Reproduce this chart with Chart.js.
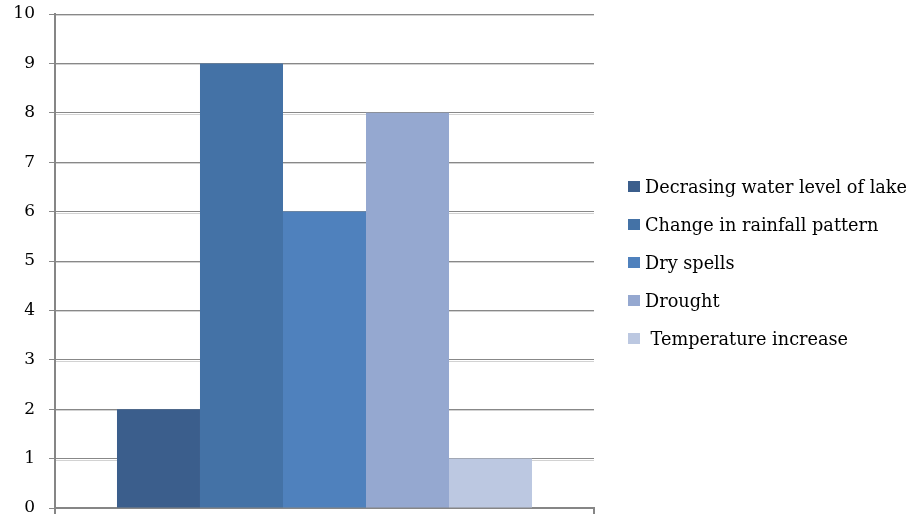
<!DOCTYPE html>
<html>
<head>
<meta charset="utf-8">
<script src="https://cdn.jsdelivr.net/npm/chart.js@4/dist/chart.umd.min.js"></script>
<style>
  html, body { margin: 0; padding: 0; background: #fff; }
  #wrap { position: relative; width: 911px; height: 516px; }
  canvas { display: block; }
  #legend { position: absolute; left: 628px; top: 168px; margin: 0; padding: 0; list-style: none;
            font-family: "DejaVu Serif", serif; font-size: 17.7px; color: #000; }
  #legend li { display: flex; align-items: center; height: 37.9px; white-space: pre; }
  #legend .box { width: 12px; height: 11px; margin-right: 5px; flex: none; }
</style>
</head>
<body>
<div id="wrap">
  <canvas id="c" width="911" height="516"></canvas>
  <ul id="legend"></ul>
</div>
<script>
const categories = [''];
const seriesNames = [
  'Decrasing water level of lake',
  'Change in rainfall pattern',
  'Dry spells',
  'Drought',
  ' Temperature increase'
];
const seriesValues = [[2], [9], [6], [8], [1]];
const seriesColors = ['#3b5e8c', '#4472a6', '#4f81bd', '#95a8d0', '#bcc8e1'];
const yTicks = [0, 1, 2, 3, 4, 5, 6, 7, 8, 9, 10];

const serif = '"DejaVu Serif", serif';

// Builds the list beside the plot from the chart's own datasets
const htmlLegend = {
  id: 'htmlLegend',
  afterUpdate(chart) {
    const ul = document.getElementById('legend');
    ul.innerHTML = '';
    chart.data.datasets.forEach(ds => {
      const li = document.createElement('li');
      const box = document.createElement('span');
      box.className = 'box';
      box.style.background = ds.backgroundColor;
      const txt = document.createElement('span');
      txt.textContent = ds.label;
      li.appendChild(box);
      li.appendChild(txt);
      ul.appendChild(li);
    });
  }
};

// Soft light line under each horizontal gridline, painted beneath the bars
const gridShadow = {
  id: 'gridShadow',
  beforeDatasetsDraw(chart) {
    const { ctx, chartArea, scales: { y } } = chart;
    ctx.save();
    ctx.fillStyle = '#d2d2d2';
    y.ticks.forEach(t => {
      if (t.value === 0) return;
      const py = Math.round(y.getPixelForValue(t.value));
      ctx.fillRect(chartArea.left + 1, py + 1, chartArea.right - chartArea.left - 1, 1);
    });
    ctx.restore();
  }
};

new Chart(document.getElementById('c'), {
  type: 'bar',
  data: {
    labels: categories,
    datasets: seriesNames.map((name, i) => ({
      label: name,
      data: seriesValues[i],
      backgroundColor: seriesColors[i],
      borderWidth: 0
    }))
  },
  options: {
    responsive: false,
    animation: false,
    events: [],
    layout: { padding: { top: 14, right: 317, bottom: 0, left: 0 } },
    categoryPercentage: 0.77,
    barPercentage: 1,
    plugins: {
      legend: { display: false },
      tooltip: { enabled: false }
    },
    scales: {
      x: {
        grid: { display: true, drawOnChartArea: false, drawTicks: true, tickLength: 6, color: '#868686', lineWidth: 2 },
        border: { display: true, color: '#868686', width: 2 },
        ticks: { display: false },
        afterFit(s) { s.height = 8; s.paddingLeft = 0; s.paddingRight = 0; }
      },
      y: {
        min: 0,
        max: 10,
        afterBuildTicks(s) { s.ticks = yTicks.map(v => ({ value: v })); },
        grid: { color: '#888888', lineWidth: 1, tickLength: 6 },
        border: { display: true, color: '#868686', width: 2 },
        ticks: { color: '#000', padding: 14, font: { family: serif, size: 17 } },
        afterFit(s) { s.width = 55; s.paddingTop = 0; s.paddingBottom = 0; }
      }
    }
  },
  plugins: [htmlLegend, gridShadow]
});
</script>
</body>
</html>
